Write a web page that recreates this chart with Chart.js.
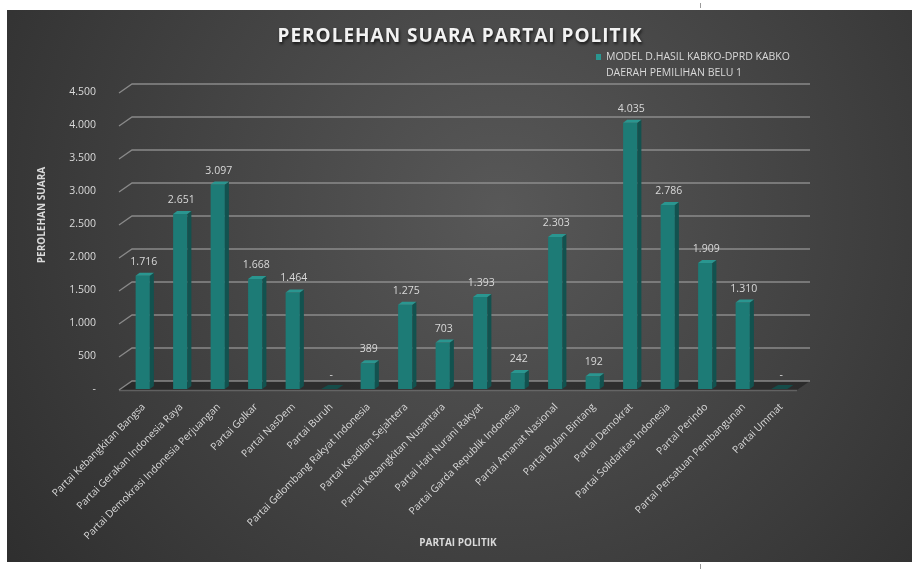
<!DOCTYPE html>
<html>
<head>
<meta charset="utf-8">
<script src="https://cdn.jsdelivr.net/npm/chart.js@4.4.1/dist/chart.umd.min.js"></script>
<style>
  html, body { margin: 0; padding: 0; background: #fff; }
  #wrap { position: relative; width: 919px; height: 571px; }
</style>
</head>
<body>
<div id="wrap"><canvas id="chart" width="919" height="571"></canvas></div>
<script>
// Data
const CHART_TITLE = 'PEROLEHAN SUARA PARTAI POLITIK';
const SERIES_LABEL = ['MODEL D.HASIL KABKO-DPRD KABKO', 'DAERAH PEMILIHAN BELU 1'];
const X_TITLE = 'PARTAI POLITIK';
const Y_TITLE = 'PEROLEHAN SUARA';

const PARTIES = [
    'Partai Kebangkitan Bangsa',
    'Partai Gerakan Indonesia Raya',
    'Partai Demokrasi Indonesia Perjuangan',
    'Partai Golkar',
    'Partai NasDem',
    'Partai Buruh',
    'Partai Gelombang Rakyat Indonesia',
    'Partai Keadilan Sejahtera',
    'Partai Kebangkitan Nusantara',
    'Partai Hati Nurani Rakyat',
    'Partai Garda Republik Indonesia',
    'Partai Amanat Nasional',
    'Partai Bulan Bintang',
    'Partai Demokrat',
    'Partai Solidaritas Indonesia',
    'Partai Perindo',
    'Partai Persatuan Pembangunan',
    'Partai Ummat'
];

const VOTES = [1716, 2651, 3097, 1668, 1464, 0, 389, 1275, 703, 1393, 242, 2303, 192, 4035, 2786, 1909, 1310, 0];

const Y_MAX = 4500;
const Y_STEP = 500;

const COLORS = {
    front: '#1d7b76',
    side: '#12524f',
    top: '#2a9690',
    flat: '#154c49',
    text: '#d9d9d9',
    grid: 'rgba(150,150,150,0.85)'
};

const FONT = '"Open Sans", "Noto Sans", sans-serif';

// 3D depth offsets
const DEPTH_X = 13;
const DEPTH_Y = 9;

// Excel style number: 1.716, zero as '-'
function fmt(v) {
    if (v === 0) return '-';
    return String(v).replace(/\B(?=(\d{3})+(?!\d))/g, '.');
}

/**
 * Background, title, legend, axis titles
 */
const frame = {
    id: 'frame',
    beforeDraw(chart) {
        const ctx = chart.ctx;
        ctx.save();
        ctx.fillStyle = '#ffffff';
        ctx.fillRect(0, 0, chart.width, chart.height);

        const g = ctx.createRadialGradient(500, 210, 0, 500, 210, 700);
        g.addColorStop(0, '#585858');
        g.addColorStop(1, '#282828');
        ctx.fillStyle = g;
        ctx.fillRect(7, 10, 905, 552);

        // little marks outside the frame
        ctx.strokeStyle = '#9a9a9a';
        ctx.lineWidth = 1;
        ctx.beginPath();
        ctx.moveTo(700.5, 3); ctx.lineTo(700.5, 8);
        ctx.moveTo(700.5, 564); ctx.lineTo(700.5, 569);
        ctx.stroke();
        ctx.restore();
    },
    afterDraw(chart) {
        const ctx = chart.ctx;
        ctx.save();

        // title
        ctx.font = `bold 19px ${FONT}`;
        ctx.textAlign = 'center';
        ctx.textBaseline = 'middle';
        ctx.shadowColor = 'rgba(0,0,0,0.7)';
        ctx.shadowOffsetX = 1;
        ctx.shadowOffsetY = 2;
        ctx.shadowBlur = 3;
        ctx.fillStyle = '#f2f2f2';
        if (ctx.letterSpacing !== undefined) ctx.letterSpacing = '1px';
        ctx.fillText(CHART_TITLE, 460, 37);
        if (ctx.letterSpacing !== undefined) ctx.letterSpacing = '0px';
        ctx.shadowColor = 'transparent';

        // legend
        ctx.fillStyle = COLORS.top;
        ctx.fillRect(596, 54, 5, 6);
        ctx.fillStyle = COLORS.text;
        ctx.font = `10.5px ${FONT}`;
        ctx.textAlign = 'left';
        ctx.fillText(SERIES_LABEL[0], 606, 57);
        ctx.fillText(SERIES_LABEL[1], 606, 73);

        // axis titles
        ctx.font = `bold 10px ${FONT}`;
        ctx.textAlign = 'center';
        ctx.fillText(X_TITLE, 458, 543);
        ctx.translate(42, 215);
        ctx.rotate(-Math.PI / 2);
        ctx.fillText(Y_TITLE, 0, 0);
        ctx.restore();
    }
};

/**
 * Back wall gridlines and floor
 */
const wall = {
    id: 'wall',
    beforeDatasetsDraw(chart) {
        const ctx = chart.ctx;
        const yScale = chart.scales.y;
        const L = chart.chartArea.left - 5;
        const R = chart.chartArea.right + 11;
        ctx.save();

        // floor
        const y0 = yScale.getPixelForValue(0) + 1;
        ctx.fillStyle = 'rgba(30,30,30,0.6)';
        ctx.beginPath();
        ctx.moveTo(L, y0);
        ctx.lineTo(L + DEPTH_X, y0 - DEPTH_Y);
        ctx.lineTo(R, y0 - DEPTH_Y);
        ctx.lineTo(R - DEPTH_X, y0);
        ctx.closePath();
        ctx.fill();

        ctx.strokeStyle = COLORS.grid;
        ctx.lineWidth = 1.3;
        yScale.ticks.forEach(t => {
            const y = yScale.getPixelForValue(t.value) + 1;
            ctx.beginPath();
            ctx.moveTo(L, y);
            ctx.lineTo(L + DEPTH_X, y - DEPTH_Y);
            ctx.lineTo(R, y - DEPTH_Y);
            ctx.stroke();
        });
        ctx.beginPath();
        ctx.moveTo(L, y0 + 0.5);
        ctx.lineTo(R - DEPTH_X, y0 + 0.5);
        ctx.strokeStyle = 'rgba(120,120,120,0.6)';
        ctx.stroke();
        ctx.restore();
    }
};

/**
 * Side and top faces of each bar, value labels
 */
const bars3d = {
    id: 'bars3d',
    afterDatasetsDraw(chart) {
        const ctx = chart.ctx;
        const meta = chart.getDatasetMeta(0);
        const dx = 4, dy = 3;
        ctx.save();
        meta.data.forEach((bar, i) => {
            const p = bar.getProps(['x', 'y', 'base', 'width'], true);
            const l = p.x - p.width / 2;
            const r = p.x + p.width / 2;
            const v = VOTES[i];

            if (v > 0) {
                ctx.fillStyle = COLORS.side;
                ctx.beginPath();
                ctx.moveTo(r, p.y);
                ctx.lineTo(r + dx, p.y - dy);
                ctx.lineTo(r + dx, p.base - dy);
                ctx.lineTo(r, p.base);
                ctx.closePath();
                ctx.fill();

                ctx.fillStyle = COLORS.top;
                ctx.beginPath();
                ctx.moveTo(l, p.y);
                ctx.lineTo(l + dx, p.y - dy);
                ctx.lineTo(r + dx, p.y - dy);
                ctx.lineTo(r, p.y);
                ctx.closePath();
                ctx.fill();
            } else {
                ctx.fillStyle = COLORS.flat;
                ctx.beginPath();
                ctx.moveTo(l - 2, p.base);
                ctx.lineTo(l + dx + 1, p.base - dy - 1);
                ctx.lineTo(r + dx + 2, p.base - dy - 1);
                ctx.lineTo(r, p.base);
                ctx.closePath();
                ctx.fill();
            }

            ctx.fillStyle = COLORS.text;
            ctx.font = `10.5px ${FONT}`;
            ctx.textAlign = 'center';
            ctx.textBaseline = 'middle';
            ctx.fillText(fmt(v), p.x + 1, p.y - 14);
        });
        ctx.restore();
    }
};

const ctx = document.getElementById('chart').getContext('2d');
new Chart(ctx, {
    type: 'bar',
    data: {
        labels: PARTIES,
        datasets: [{
            label: SERIES_LABEL.join(' '),
            data: VOTES,
            backgroundColor: COLORS.front,
            borderWidth: 0,
            barPercentage: 0.38,
            categoryPercentage: 1
        }]
    },
    options: {
        responsive: false,
        animation: false,
        devicePixelRatio: 1,
        layout: { padding: { top: 92, right: 120, left: 0, bottom: 0 } },
        plugins: {
            legend: { display: false },
            tooltip: { enabled: false }
        },
        scales: {
            x: {
                grid: { display: false },
                border: { display: false },
                ticks: {
                    color: COLORS.text,
                    font: { family: FONT, size: 10.2 },
                    minRotation: 45,
                    maxRotation: 45,
                    autoSkip: false,
                    padding: 4,
                    labelOffset: 1
                },
                afterFit(scale) { scale.height = 182; }
            },
            y: {
                min: 0,
                max: Y_MAX,
                grid: { display: false },
                border: { display: false },
                ticks: {
                    stepSize: Y_STEP,
                    color: COLORS.text,
                    font: { family: FONT, size: 10.5 },
                    padding: 20,
                    callback: v => fmt(v)
                },
                afterFit(scale) { scale.width = 124; }
            }
        }
    },
    plugins: [frame, wall, bars3d]
});
</script>
</body>
</html>
